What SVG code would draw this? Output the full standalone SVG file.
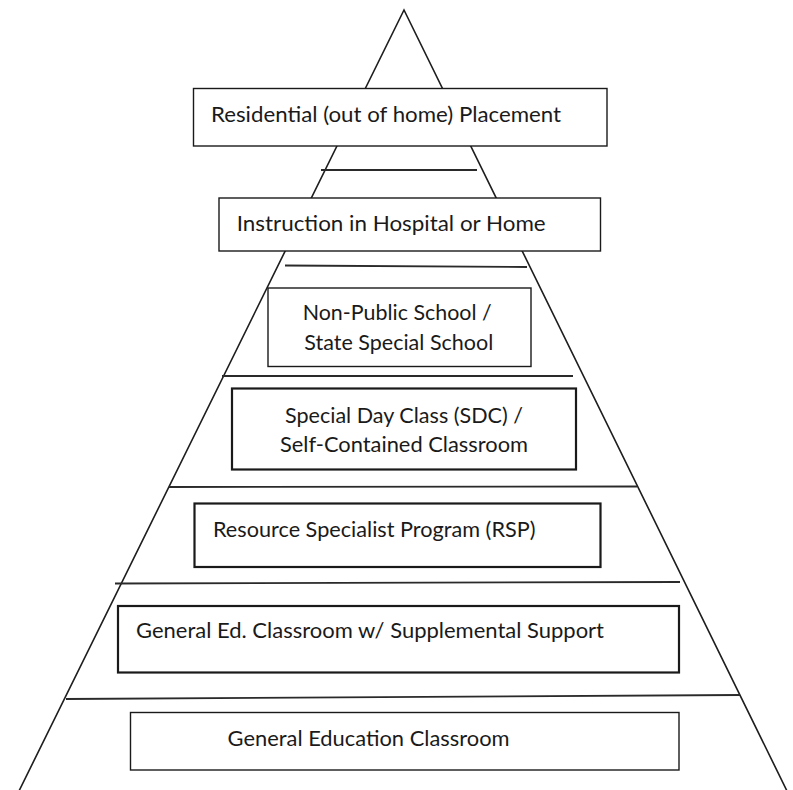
<svg xmlns="http://www.w3.org/2000/svg" width="793" height="790" viewBox="0 0 793 790">
  <style>
    .bg { fill: #ffffff; }
    .edge { fill: none; stroke: #1e1e1e; stroke-width: 1.6; stroke-linejoin: miter; }
    .div { fill: none; stroke: #2a2a2a; stroke-width: 1.8; }
    .box { fill: #ffffff; stroke: #1a1a1a; stroke-width: 1.4; }
    .box.thick { stroke-width: 2.2; }
    .lbl { font-family: Lato, "Open Sans", "Liberation Sans", sans-serif; font-size: 22px; fill: #1a1a1a; }
  </style>
  <rect class="bg" x="0" y="0" width="793" height="790"/>

  <g id="connectors">
    <polyline class="edge" points="19,791 404,10 787,791"/>
    <line class="div" x1="321" y1="170" x2="477" y2="170"/>
    <line class="div" x1="285" y1="265.5" x2="527" y2="267"/>
    <line class="div" x1="222" y1="376" x2="573" y2="376"/>
    <line class="div" x1="169" y1="487" x2="637" y2="486.5"/>
    <line class="div" x1="115" y1="583.5" x2="680" y2="582"/>
    <line class="div" x1="66" y1="699" x2="740" y2="695"/>
  </g>

  <g id="node-residential">
    <rect class="box" x="193.5" y="88.5" width="413.5" height="57.5"/>
    <text class="lbl" x="211" y="122" textLength="350" lengthAdjust="spacingAndGlyphs">Residential (out of home) Placement</text>
  </g>

  <g id="node-hospital-home">
    <rect class="box" x="219" y="198" width="381.5" height="53"/>
    <text class="lbl" x="236.7" y="231" textLength="309" lengthAdjust="spacingAndGlyphs">Instruction in Hospital or Home</text>
  </g>

  <g id="node-nonpublic">
    <rect class="box" x="268" y="288" width="263" height="78.5"/>
    <text class="lbl" x="302.7" y="320" textLength="189" lengthAdjust="spacingAndGlyphs">Non-Public School /</text>
    <text class="lbl" x="304.3" y="350" textLength="189" lengthAdjust="spacingAndGlyphs">State Special School</text>
  </g>

  <g id="node-sdc">
    <rect class="box thick" x="232" y="388.5" width="344" height="81"/>
    <text class="lbl" x="285" y="423" textLength="238" lengthAdjust="spacingAndGlyphs">Special Day Class (SDC) /</text>
    <text class="lbl" x="280" y="452" textLength="248" lengthAdjust="spacingAndGlyphs">Self-Contained Classroom</text>
  </g>

  <g id="node-rsp">
    <rect class="box thick" x="194.5" y="503.5" width="406" height="63.5"/>
    <text class="lbl" x="213" y="536.5" textLength="322.5" lengthAdjust="spacingAndGlyphs">Resource Specialist Program (RSP)</text>
  </g>

  <g id="node-gened-support">
    <rect class="box thick" x="118" y="606" width="561" height="66.5"/>
    <text class="lbl" x="136" y="637.5" textLength="468" lengthAdjust="spacingAndGlyphs">General Ed. Classroom w/ Supplemental Support</text>
  </g>

  <g id="node-gened">
    <rect class="box" x="130.5" y="712.5" width="548.5" height="57.5"/>
    <text class="lbl" x="227.6" y="745.5" textLength="282" lengthAdjust="spacingAndGlyphs">General Education Classroom</text>
  </g>
</svg>
